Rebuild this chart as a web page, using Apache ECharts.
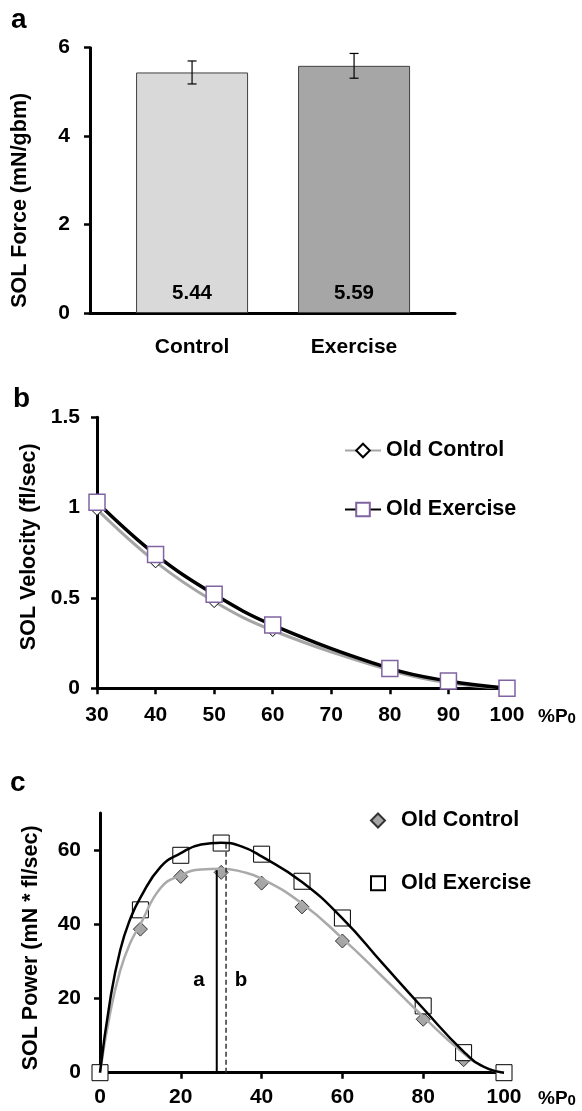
<!DOCTYPE html>
<html>
<head>
<meta charset="utf-8">
<script src="https://cdn.jsdelivr.net/npm/echarts@6/dist/echarts.min.js"></script>
<style>
  html, body { margin: 0; padding: 0; background: #fff; }
  #main { width: 582px; height: 1111px; }
</style>
</head>
<body>
<div id="main"></div>
<script>
var FONT = "'Liberation Sans', Arial, Helvetica, sans-serif";

// panel a - soleus force
var forceCats = ["Control", "Exercise"];
var forceMean = [5.44, 5.59];
var forceErr = [0.26, 0.28];

// panel b - velocity vs load
var velLoad = [30, 40, 50, 60, 80, 90, 100];
var velControl = [0.99, 0.70, 0.48, 0.32, 0.10, 0.03, 0.00];
var velExercise = [1.03, 0.74, 0.52, 0.35, 0.11, 0.04, 0.00];

// panel c - power vs load (points)
var powLoad = [0, 10, 20, 30, 40, 50, 60, 80, 90, 100];
var powControl = [0, 38.7, 52.9, 54.0, 51.1, 44.7, 35.5, 14.4, 3.5, 0];
var powExercise = [0, 43.9, 58.6, 61.9, 58.9, 51.6, 41.7, 18.0, 5.4, 0];

// panel c - fitted curves
var fitLoad = [0, 2.5, 5, 7.5, 10, 15, 20, 25, 30, 35, 40, 50, 60, 70, 80, 90, 95, 100];
var fitControl = [0, 16, 27.5, 35, 40, 49.8, 53.2, 54.8, 55.0, 54.2, 52.3, 45.6, 36.2, 25.8, 15.1, 5.2, 1.6, 0];
var fitExercise = [0, 19.5, 33, 41.5, 47.2, 55.5, 59.2, 61.5, 62.0, 61.0, 58.3, 51.4, 41.6, 29.4, 17.3, 5.7, 1.6, 0];

// peak power markers (a = control, b = exercise)
var peakNames = ["a", "b"];
var peakLoad = [28.9, 31.2];
var peakPower = [54.6, 61.8];
var peakLabelPos = [[24.5, 25], [34.9, 25]];

function zip(xs, ys) {
  return xs.map(function (x, i) { return [x, ys[i]]; });
}

var chart = echarts.init(document.getElementById("main"));

var tickText = { color: "#000", fontSize: 21, fontWeight: "bold", fontFamily: FONT };
var nameText = { color: "#000", fontSize: 21.5, fontWeight: "bold", fontFamily: FONT };
var axisLine = { show: true, lineStyle: { color: "#000", width: 3 } };
var axisTick = { show: true, inside: false, length: 6, lineStyle: { color: "#000", width: 2.5 } };
var p0Rich = {
  p: { fontSize: 19, fontWeight: "bold", fontFamily: FONT, color: "#000", lineHeight: 24, verticalAlign: "bottom" },
  s: { fontSize: 15, fontWeight: "bold", fontFamily: FONT, color: "#000", lineHeight: 8, verticalAlign: "bottom" }
};

var option = {
  backgroundColor: "#fff",
  animation: false,
  title: [
    { text: "a", left: 11, top: 6, padding: 0, textStyle: { fontSize: 28, fontWeight: "bold", fontFamily: FONT, color: "#000" } },
    { text: "b", left: 13, top: 385, padding: 0, textStyle: { fontSize: 28, fontWeight: "bold", fontFamily: FONT, color: "#000" } },
    { text: "c", left: 10, top: 769, padding: 0, textStyle: { fontSize: 28, fontWeight: "bold", fontFamily: FONT, color: "#000" } }
  ],
  grid: [
    { left: 90, top: 47.7, width: 365, height: 265.3 },
    { left: 97, top: 417.3, width: 410, height: 271 },
    { left: 100, top: 813, width: 404, height: 259.7 }
  ],
  legend: [
    {
      orient: "vertical", left: 344, top: 439.5, padding: 0,
      itemWidth: 36, itemHeight: 17, itemGap: 37,
      textStyle: { color: "#000", fontSize: 21.5, fontWeight: "bold", fontFamily: FONT },
      data: ["Old Control", "Old Exercise"]
    },
    {
      orient: "vertical", left: 370, top: 809.5, padding: 0,
      itemWidth: 14, itemHeight: 14, itemGap: 40.7,
      textStyle: { color: "#000", fontSize: 21.5, fontWeight: "bold", fontFamily: FONT, padding: [0, 0, 0, 11] },
      formatter: function (n) { return n.replace("c:", ""); },
      data: ["c:Old Control", "c:Old Exercise"]
    }
  ],
  xAxis: [
    {
      gridIndex: 0, type: "value", min: 0.37, max: 2.623,
      axisLine: axisLine, axisTick: { show: false }, splitLine: { show: false },
      axisLabel: Object.assign({
        margin: 24, customValues: [1, 2],
        formatter: function (v) { return forceCats[Math.round(v) - 1]; }
      }, tickText)
    },
    {
      gridIndex: 1, type: "value", min: 30, max: 100, interval: 10,
      axisLine: axisLine, axisTick: axisTick, splitLine: { show: false },
      axisLabel: Object.assign({ margin: 16 }, tickText),
      name: "{p|%P}{s|0}", nameLocation: "end", nameGap: 31,
      nameTextStyle: { verticalAlign: "top", padding: [14, 0, 0, 0], rich: p0Rich }
    },
    {
      gridIndex: 2, type: "value", min: 0, max: 100, interval: 20,
      axisLine: axisLine, axisTick: axisTick, splitLine: { show: false },
      axisLabel: Object.assign({ margin: 14 }, tickText),
      name: "{p|%P}{s|0}", nameLocation: "end", nameGap: 34,
      nameTextStyle: { verticalAlign: "top", padding: [12, 0, 0, 0], rich: p0Rich }
    }
  ],
  yAxis: [
    {
      gridIndex: 0, type: "value", min: 0, max: 6, interval: 2,
      axisLine: axisLine, axisTick: axisTick, splitLine: { show: false },
      axisLabel: Object.assign({ margin: 20 }, tickText),
      name: "SOL Force (mN/gbm)", nameLocation: "middle", nameGap: 59,
      nameTextStyle: Object.assign({ padding: [0, 40, 0, 0] }, nameText)
    },
    {
      gridIndex: 1, type: "value", min: 0, max: 1.5, interval: 0.5,
      axisLine: axisLine, axisTick: axisTick, splitLine: { show: false },
      axisLabel: Object.assign({ margin: 17 }, tickText),
      name: "SOL Velocity (fl/sec)", nameLocation: "middle", nameGap: 52,
      nameTextStyle: Object.assign({ padding: [0, 0, 0, 12] }, nameText)
    },
    {
      gridIndex: 2, type: "value", min: 0, max: 70,
      axisLine: axisLine, splitLine: { show: false },
      axisTick: Object.assign({ customValues: [0, 20, 40, 60] }, axisTick),
      axisLabel: Object.assign({ margin: 19, customValues: [0, 20, 40, 60] }, tickText),
      name: "SOL Power (mN * fl/sec)", nameLocation: "middle", nameGap: 58,
      nameTextStyle: Object.assign({ padding: [0, 10, 0, 0] }, nameText)
    }
  ],
  series: [
    // panel a
    {
      type: "bar", xAxisIndex: 0, yAxisIndex: 0, barWidth: 112,
      data: forceMean.map(function (m, i) {
        return { value: [i + 1, m], itemStyle: { color: i === 0 ? "#d9d9d9" : "#a6a6a6" } };
      }),
      itemStyle: { borderColor: "#404040", borderWidth: 1 },
      label: {
        show: true, position: "insideBottom", distance: 9,
        formatter: function (p) { return p.value[1].toFixed(2); },
        color: "#000", fontSize: 20.5, fontWeight: "bold", fontFamily: FONT
      }
    },
    {
      type: "custom", xAxisIndex: 0, yAxisIndex: 0, z: 5,
      encode: { x: 0, y: [1, 2] },
      data: forceMean.map(function (m, i) { return [i + 1, m - forceErr[i], m + forceErr[i]]; }),
      renderItem: function (params, api) {
        var lo = api.coord([api.value(0), api.value(1)]);
        var hi = api.coord([api.value(0), api.value(2)]);
        var hw = 4.5;
        var st = { stroke: "#000", lineWidth: 1.2 };
        return {
          type: "group",
          children: [
            { type: "line", shape: { x1: lo[0], y1: lo[1], x2: hi[0], y2: hi[1] }, style: st },
            { type: "line", shape: { x1: lo[0] - hw, y1: lo[1], x2: lo[0] + hw, y2: lo[1] }, style: st },
            { type: "line", shape: { x1: hi[0] - hw, y1: hi[1], x2: hi[0] + hw, y2: hi[1] }, style: st }
          ]
        };
      }
    },
    // panel b
    {
      name: "Old Control", type: "line", xAxisIndex: 1, yAxisIndex: 1,
      data: zip(velLoad, velControl), smooth: 0.4,
      symbol: "diamond", symbolSize: 12,
      lineStyle: { color: "#a6a6a6", width: 3 },
      itemStyle: { color: "#fff", borderColor: "#000", borderWidth: 1 }
    },
    {
      name: "Old Exercise", type: "line", xAxisIndex: 1, yAxisIndex: 1,
      data: zip(velLoad, velExercise), smooth: 0.4,
      symbol: "rect", symbolSize: 16,
      lineStyle: { color: "#000", width: 3.5 },
      itemStyle: { color: "#fff", borderColor: "#8064a2", borderWidth: 1.5 }
    },
    // panel c
    {
      name: "c:Old Control", type: "scatter", xAxisIndex: 2, yAxisIndex: 2, z: 2,
      data: zip(powLoad, powControl), symbol: "diamond", symbolSize: 14,
      itemStyle: { color: "#a6a6a6", borderColor: "#333", borderWidth: 1, opacity: 1 }
    },
    {
      name: "c:Old Exercise", type: "scatter", xAxisIndex: 2, yAxisIndex: 2, z: 2,
      data: zip(powLoad, powExercise), symbol: "rect", symbolSize: 16,
      itemStyle: { color: "#fff", borderColor: "#000", borderWidth: 1, opacity: 1 }
    },
    {
      type: "line", xAxisIndex: 2, yAxisIndex: 2, z: 3,
      data: zip(fitLoad, fitControl), smooth: 0.5, showSymbol: false, symbol: "none",
      lineStyle: { color: "#aaaaaa", width: 2.5 }
    },
    {
      type: "line", xAxisIndex: 2, yAxisIndex: 2, z: 3,
      data: zip(fitLoad, fitExercise), smooth: 0.5, showSymbol: false, symbol: "none",
      lineStyle: { color: "#000", width: 2.5 }
    },
    {
      type: "line", xAxisIndex: 2, yAxisIndex: 2, z: 3, symbol: "none",
      data: [[peakLoad[0], 0], [peakLoad[0], peakPower[0]]],
      lineStyle: { color: "#000", width: 2 }
    },
    {
      type: "line", xAxisIndex: 2, yAxisIndex: 2, z: 3, symbol: "none",
      data: [[peakLoad[1], 0], [peakLoad[1], peakPower[1]]],
      lineStyle: { color: "#333", width: 1.5, type: [5, 3] }
    },
    {
      type: "scatter", xAxisIndex: 2, yAxisIndex: 2, z: 4, symbolSize: 0,
      data: peakLabelPos,
      itemStyle: { opacity: 1 },
      label: {
        show: true, position: "inside",
        formatter: function (p) { return peakNames[p.dataIndex]; },
        color: "#000", fontSize: 20.5, fontWeight: "bold", fontFamily: FONT
      }
    }
  ]
};

chart.setOption(option);
</script>
</body>
</html>
